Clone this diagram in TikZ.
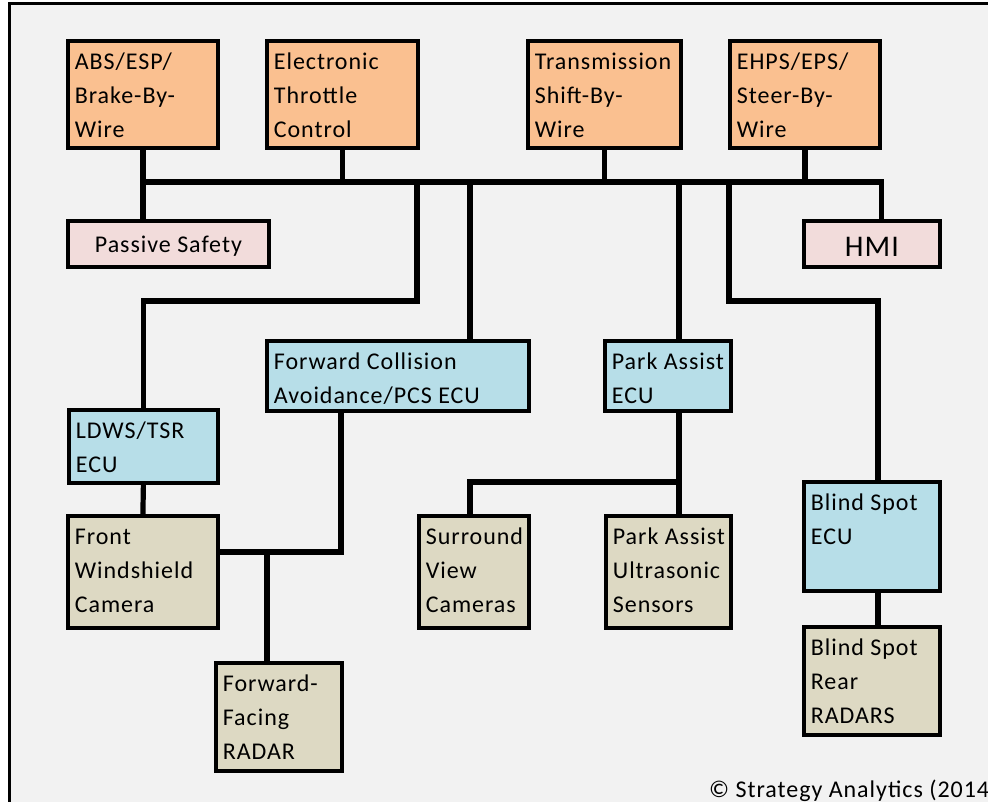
\documentclass[tikz,border=0pt]{standalone}
\usepackage{fontspec}
\setmainfont{Carlito}[LetterSpace=4]
\usetikzlibrary{calc}
\definecolor{orng}{HTML}{FAC090}
\definecolor{pnk}{HTML}{F2DCDB}
\definecolor{ecublue}{HTML}{B7DEE8}
\definecolor{tan}{HTML}{DDD9C3}
\definecolor{bgc}{HTML}{F2F2F2}
\tikzset{
  box/.style={draw=black, line width=3.8pt, inner xsep=7pt, inner ysep=0pt,
    font=\fontsize{24}{34}\selectfont},
  ctrl/.style={box, fill=orng},
  ecu/.style={box, fill=ecublue},
  sens/.style={box, fill=tan},
  hmibox/.style={box, fill=pnk},
  wire/.style={line width=5.2pt, line join=miter},
}
\newcommand\rowtxt[1]{\hbox{#1}}
\newcommand\mkbox[7]{%
  \pgfmathsetmacro\mybw{#5-#3-14}%
  \pgfmathsetmacro\mybd{#6-#4-29}%
  \node[#2, text height=29pt, text depth=\mybd pt, anchor=north west] (#1) at (#3,#4)
    {\hbox to \mybw pt{\vtop{#7}\hfil}};%
}
\begin{document}
\begin{tikzpicture}[x=1pt,y=-1pt]
\useasboundingbox (0,0) rectangle (988,802);
\clip (0,0) rectangle (988,802);
\fill[bgc] (9.5,3.5) rectangle (1000,830);
\draw[line width=3.4pt] (9.5,830) -- (9.5,3.5) -- (1000,3.5);

% top row
\mkbox{abs}{ctrl}{66}{39}{216}{146}{\rowtxt{ABS/ESP/}\rowtxt{Brake-By-}\rowtxt{Wire}}
\mkbox{etc}{ctrl}{265}{39}{416}{146}{\rowtxt{Electronic}\rowtxt{Throttle}\rowtxt{Control}}
\mkbox{tsw}{ctrl}{526}{39}{679}{146}{\rowtxt{Transmission}\rowtxt{Shift-By-}\rowtxt{Wire}}
\mkbox{ehps}{ctrl}{728}{39}{878}{146}{\rowtxt{EHPS/EPS/}\rowtxt{Steer-By-}\rowtxt{Wire}}

% pink
\node[hmibox, text height=32pt, text depth=14pt, anchor=north west] (ps) at (66,219)
  {\hbox to 187pt{\hfil Passive Safety\hfil}};
\node[hmibox, font=\fontsize{30}{36}\selectfont, text height=36pt, text depth=10pt, anchor=north west] (hmi) at (802,219)
  {\hbox to 122pt{\hfil HMI\hfil}};

% ECUs
\mkbox{fca}{ecu}{265}{339}{527}{409}{\rowtxt{Forward Collision}\rowtxt{Avoidance/PCS ECU}}
\mkbox{pa}{ecu}{603}{339}{729}{409}{\rowtxt{Park Assist}\rowtxt{ECU}}
\mkbox{ldws}{ecu}{67}{408}{216}{481}{\rowtxt{LDWS/TSR}\rowtxt{ECU}}
\mkbox{bse}{ecu}{802}{480}{938}{589}{\rowtxt{Blind Spot}\rowtxt{ECU}}

% sensors
\mkbox{fw}{sens}{66}{514}{216}{626}{\rowtxt{Front}\rowtxt{Windshield}\rowtxt{Camera}}
\mkbox{sv}{sens}{417}{514}{527}{626}{\rowtxt{Surround}\rowtxt{View}\rowtxt{Cameras}}
\mkbox{pau}{sens}{604}{514}{729}{626}{\rowtxt{Park Assist}\rowtxt{Ultrasonic}\rowtxt{Sensors}}
\mkbox{ffr}{sens}{214}{661}{340}{769}{\rowtxt{Forward-}\rowtxt{Facing}\rowtxt{RADAR}}
\mkbox{bsr}{sens}{802}{625}{938}{733}{\rowtxt{Blind Spot}\rowtxt{Rear}\rowtxt{RADARS}}

\node[anchor=base west, inner sep=0pt, font=\fontsize{24}{29}\selectfont] (copy) at (709,797)
  {© Strategy Analytics (2014};

% connectors
\coordinate (bus) at (0,182);
\draw[wire] (abs.south) -- (ps.north -| abs.south);
\draw[wire] (abs.south |- bus) -- (ehps.south east |- bus) -- (ehps.south east |- hmi.north);
\draw[wire] (etc.south) -- (etc.south |- bus);
\draw[wire] (tsw.south) -- (tsw.south |- bus);
\draw[wire] (ehps.south) -- (ehps.south |- bus);
\coordinate (ja) at (417,182);
\coordinate (jb) at (417,301);
\draw[wire] (ja) -- (jb) -- (jb -| ldws.north) -- (ldws.north);
\coordinate (jc) at (470,182);
\draw[wire] (jc) -- (jc |- fca.north);
\coordinate (jd) at (679,182);
\draw[wire] (jd) -- (jd |- pa.north);
\draw[wire] (jd |- pa.south) -- (jd |- pau.north);
\coordinate (je) at (470,482);
\draw[wire] (je |- sv.north) -- (je) -- (je -| jd);
\coordinate (jf) at (729,182);
\coordinate (jg) at (878,301);
\draw[wire] (jf) -- (jf |- jg) -- (jg) -- (jg |- bse.north);
\draw[wire] (jg |- bse.south) -- (jg |- bsr.north);
\draw[wire] (ldws.south) -- (fw.north);
\coordinate (jh) at (341,552);
\draw[wire] (jh |- fca.south) -- (jh) -- (jh -| fw.east);
\coordinate (ji) at (267,552);
\draw[wire] (ji) -- (ji |- ffr.north);
\end{tikzpicture}
\end{document}
